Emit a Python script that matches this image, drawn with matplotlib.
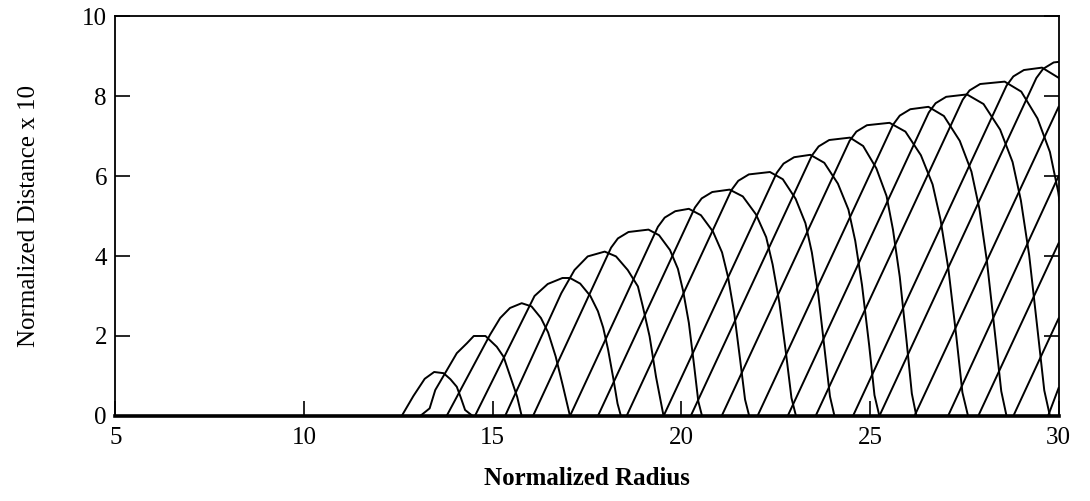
import matplotlib
matplotlib.use("Agg")
import matplotlib.pyplot as plt

# x ticks / y ticks
x_ticks = [5, 10, 15, 20, 25, 30]
y_ticks = [0, 2, 4, 6, 8, 10]

# each arch: normalized radius (r) vs normalized distance x 10 (d)
r1 = [12.59, 12.9, 13.2, 13.45, 13.7, 13.88, 14.05, 14.16, 14.27, 14.47]
d1 = [0, 0.5, 0.93, 1.1, 1.07, 0.92, 0.73, 0.45, 0.15, 0]

r2 = [13.08, 13.33, 13.48, 14.05, 14.32, 14.5, 14.81, 15.11, 15.29, 15.47, 15.65, 15.77]
d2 = [0, 0.19, 0.65, 1.57, 1.82, 2.0, 2.0, 1.73, 1.48, 0.98, 0.48, 0]

r3 = [13.78, 14.93, 15.2, 15.46, 15.77, 16.03, 16.28, 16.47, 16.67, 16.86, 17.05]
d3 = [0, 2.03, 2.45, 2.7, 2.82, 2.74, 2.45, 2.09, 1.49, 0.76, 0]

r4 = [14.53, 16.11, 16.46, 16.85, 17.05, 17.32, 17.59, 17.79, 17.93, 18.06, 18.2, 18.31, 18.4]
d4 = [0, 3.0, 3.3, 3.45, 3.45, 3.31, 3.0, 2.62, 2.21, 1.66, 0.93, 0.31, 0]

r5 = [15.33, 16.82, 17.17, 17.52, 17.97, 18.27, 18.58, 18.85, 18.98, 19.16, 19.33, 19.53]
d5 = [0, 3.07, 3.65, 3.99, 4.11, 3.99, 3.65, 3.24, 2.74, 1.99, 0.98, 0]

r6 = [16.07, 18.14, 18.32, 18.6, 19.13, 19.41, 19.7, 19.91, 20.05, 20.2, 20.34, 20.45, 20.55]
d6 = [0, 4.21, 4.44, 4.6, 4.66, 4.52, 4.15, 3.68, 3.12, 2.33, 1.26, 0.37, 0]

r7 = [17.05, 19.38, 19.56, 19.84, 20.2, 20.52, 20.84, 21.08, 21.24, 21.4, 21.56, 21.69, 21.8]
d7 = [0, 4.73, 4.96, 5.12, 5.18, 5.02, 4.61, 4.09, 3.47, 2.59, 1.4, 0.41, 0]

r8 = [17.79, 20.36, 20.54, 20.82, 21.28, 21.63, 21.98, 22.25, 22.42, 22.6, 22.78, 22.92, 23.04]
d8 = [0, 5.21, 5.44, 5.6, 5.66, 5.49, 5.04, 4.47, 3.79, 2.83, 1.53, 0.45, 0]

r9 = [18.55, 21.33, 21.51, 21.79, 22.35, 22.69, 23.03, 23.29, 23.46, 23.63, 23.8, 23.94, 24.06]
d9 = [0, 5.65, 5.88, 6.04, 6.1, 5.92, 5.43, 4.82, 4.09, 3.05, 1.65, 0.49, 0]

r10 = [19.53, 22.53, 22.71, 22.99, 23.42, 23.79, 24.15, 24.43, 24.61, 24.79, 24.98, 25.12, 25.25]
d10 = [0, 6.08, 6.31, 6.47, 6.53, 6.33, 5.81, 5.16, 4.38, 3.27, 1.76, 0.52, 0]

r11 = [20.25, 23.46, 23.64, 23.92, 24.47, 24.82, 25.17, 25.44, 25.61, 25.79, 25.97, 26.11, 26.23]
d11 = [0, 6.51, 6.74, 6.9, 6.96, 6.75, 6.19, 5.5, 4.66, 3.48, 1.88, 0.56, 0]

r12 = [21.07, 24.46, 24.64, 24.92, 25.52, 25.94, 26.35, 26.66, 26.87, 27.08, 27.29, 27.45, 27.6]
d12 = [0, 6.88, 7.11, 7.27, 7.33, 7.11, 6.52, 5.79, 4.91, 3.67, 1.98, 0.59, 0]

r13 = [22.02, 25.61, 25.79, 26.07, 26.55, 26.96, 27.38, 27.69, 27.9, 28.1, 28.31, 28.48, 28.62]
d13 = [0, 7.28, 7.51, 7.67, 7.73, 7.5, 6.88, 6.11, 5.18, 3.87, 2.09, 0.62, 0]

r14 = [22.82, 26.56, 26.74, 27.02, 27.57, 28.01, 28.45, 28.78, 29.0, 29.22, 29.44, 29.62, 29.77]
d14 = [0, 7.59, 7.82, 7.98, 8.04, 7.8, 7.16, 6.35, 5.39, 4.02, 2.17, 0.64, 0]

r15 = [23.56, 27.46, 27.64, 27.92, 28.57, 29.01, 29.44, 29.77, 29.99, 30.2, 30.42, 30.6, 30.75]
d15 = [0, 7.91, 8.14, 8.3, 8.36, 8.11, 7.44, 6.6, 5.6, 4.18, 2.26, 0.67, 0]

r16 = [24.55, 28.62, 28.8, 29.08, 29.56, 30.01, 30.46]
d16 = [0, 8.26, 8.49, 8.65, 8.71, 8.45, 7.75]

r17 = [25.25, 29.41, 29.59, 29.87, 30.45]
d17 = [0, 8.45, 8.68, 8.84, 8.9]

r18 = [26.18, 30.0]
d18 = [0, 7.73]

r19 = [27.07, 30.0]
d19 = [0, 6.0]

r20 = [27.87, 30.0]
d20 = [0, 4.32]

r21 = [28.8, 30.0]
d21 = [0, 2.44]

r22 = [29.72, 30.0]
d22 = [0, 0.7]

arches = [(r1, d1), (r2, d2), (r3, d3), (r4, d4), (r5, d5), (r6, d6),
          (r7, d7), (r8, d8), (r9, d9), (r10, d10), (r11, d11), (r12, d12),
          (r13, d13), (r14, d14), (r15, d15), (r16, d16), (r17, d17),
          (r18, d18), (r19, d19), (r20, d20), (r21, d21), (r22, d22)]

plt.rcParams['font.family'] = ['Liberation Serif', 'DejaVu Serif']

fig = plt.figure(figsize=(10.9, 5.01), dpi=100)
ax = fig.add_axes([0.1058, 0.1697, 0.8654, 0.7983])

for r, d in arches:
    ax.plot(r, d, color='black', lw=1.4)

ax.set_xlim(5, 30)
ax.set_ylim(0, 10)
ax.set_xticks(x_ticks)
ax.set_yticks(y_ticks)

ax.tick_params(axis='x', direction='in', length=11, width=1.2, labelsize=18, pad=8, top=False)
ax.tick_params(axis='y', direction='in', length=11, width=1.2, labelsize=18, pad=6, right=True)

for s in ['left', 'top', 'right']:
    ax.spines[s].set_linewidth(1.3)
ax.spines['bottom'].set_linewidth(2.6)
ax.spines['bottom'].set_zorder(5)

ax.set_xlabel('Normalized Radius', fontsize=18, fontweight='bold', labelpad=13)
ax.set_ylabel('Normalized Distance x 10', fontsize=18, labelpad=30)

fig.savefig('out.png', dpi=100)
